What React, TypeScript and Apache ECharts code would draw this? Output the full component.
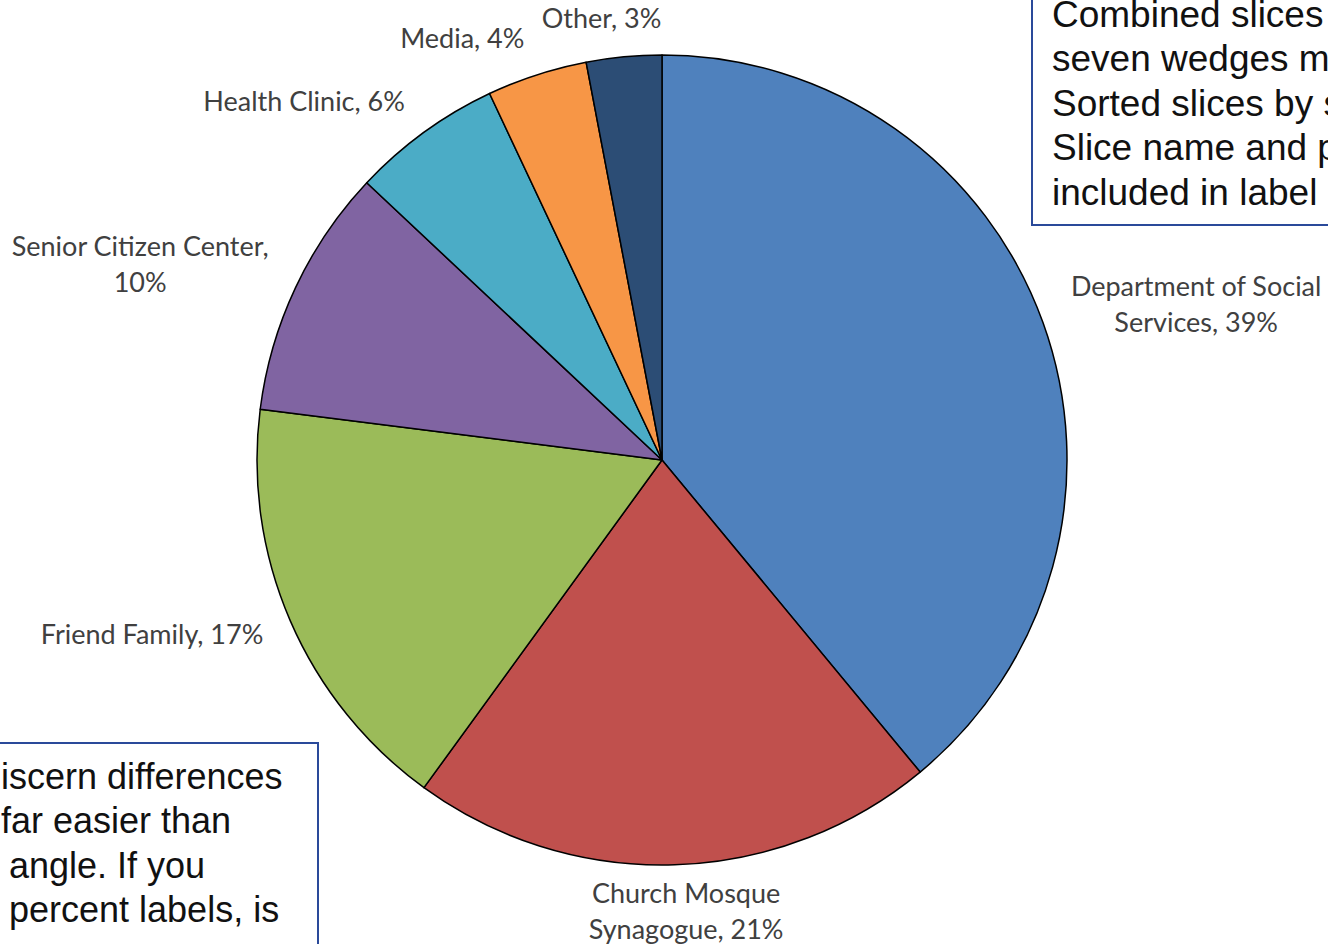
import React, { useEffect, useRef } from "react";
import * as echarts from "echarts";

// ---- data ----
const categories = [
  "Department of Social Services",
  "Church Mosque Synagogue",
  "Friend Family",
  "Senior Citizen Center",
  "Health Clinic",
  "Media",
  "Other",
];
const shares = [39, 21, 17, 10, 6, 4, 3];
const labelNames = [
  "Department of Social\nServices",
  "Church Mosque\nSynagogue",
  "Friend Family",
  "Senior Citizen Center",
  "Health Clinic",
  "Media",
  "Other",
];
const labelSeparators = [", ", ", ", ", ", ",\n", ", ", ", ", ", "];
const sliceColors = ["#4F81BD", "#C0504D", "#9BBB59", "#8064A2", "#4BACC6", "#F79646", "#2C4D75"];

const noteTopRight = [
  "Combined slices",
  "seven wedges m",
  "Sorted slices by s",
  "Slice name and p",
  "included in label",
];
const noteBottomLeft = [
  "iscern differences",
  "far easier than",
  " angle. If you",
  " percent labels, is",
];

const CX = 662;
const CY = 460;
const R = 405;

export default function App() {
  const ref = useRef<HTMLDivElement>(null);

  useEffect(() => {
    if (!ref.current) return;
    const chart = echarts.init(ref.current, undefined, { renderer: "svg" });
    const total = shares.reduce((a, b) => a + b, 0);
    const cum: number[] = [];
    let acc = 0;
    shares.forEach((v) => {
      cum.push(acc);
      acc += v;
    });

    const graphics: any[] = [];
    graphics.push({
      type: "rect",
      shape: { x: 1032, y: -10, width: 400, height: 235 },
      style: { fill: "#fff", stroke: "#2A4A9A", lineWidth: 2 },
      z: 1,
    });
    noteTopRight.forEach((t, i) => {
      graphics.push({
        type: "text",
        x: 1052,
        y: 14 + i * 44.5,
        style: {
          text: t,
          font: "37px 'Liberation Sans', Arial, sans-serif",
          fill: "#111",
          verticalAlign: "middle",
        },
        z: 2,
      });
    });
    graphics.push({
      type: "rect",
      shape: { x: -10, y: 743, width: 328, height: 300 },
      style: { fill: "#fff", stroke: "#2A4A9A", lineWidth: 2 },
      z: 1,
    });
    noteBottomLeft.forEach((t, i) => {
      graphics.push({
        type: "text",
        x: i < 2 ? 1 : -1,
        y: 776 + i * 44.5,
        style: {
          text: t,
          font: "36px 'Liberation Sans', Arial, sans-serif",
          fill: "#111",
          verticalAlign: "middle",
        },
        z: 2,
      });
    });

    chart.setOption({
      animation: false,
      backgroundColor: "#fff",
      textStyle: { fontFamily: "Lato, 'Noto Sans', sans-serif" },
      graphic: graphics,
      series: [
        {
          type: "pie",
          center: [CX, CY],
          radius: R,
          startAngle: 90,
          clockwise: true,
          avoidLabelOverlap: false,
          data: categories.map((c, i) => ({
            name: c,
            value: shares[i],
            itemStyle: { color: sliceColors[i] },
          })),
          itemStyle: { borderColor: "#000", borderWidth: 1.5 },
          label: {
            show: true,
            position: "outside",
            color: "#404040",
            fontSize: 27,
            lineHeight: 36,
            fontFamily: "Lato, 'Noto Sans', sans-serif",
            formatter: (p: any) =>
              `${labelNames[p.dataIndex]}${labelSeparators[p.dataIndex]}${p.value}%`,
          },
          labelLine: { show: false },
          labelLayout: (params: any) => {
            const i = params.dataIndex;
            const mid = ((cum[i] + shares[i] / 2) / total) * Math.PI * 2;
            const dx = Math.sin(mid);
            const dy = -Math.cos(mid);
            const ax = CX + (R + 24) * dx;
            const ay = CY + (R + 18) * dy;
            const w = params.labelRect.width + 10;
            const h = params.labelRect.height + 6;
            const x = ax + Math.sign(dx) * Math.min(1, 3.3 * Math.abs(dx)) * (w / 2);
            const y = ay + dy * (h / 2) * (dy > 0 ? 0.7 : 1);
            return { x, y, align: "center", verticalAlign: "middle" };
          },
          emphasis: { disabled: true },
        },
      ],
    });
    return () => chart.dispose();
  }, []);

  return (
    <div
      ref={ref}
      style={{ position: "fixed", left: 0, top: 0, width: 1328, height: 944 }}
    />
  );
}
